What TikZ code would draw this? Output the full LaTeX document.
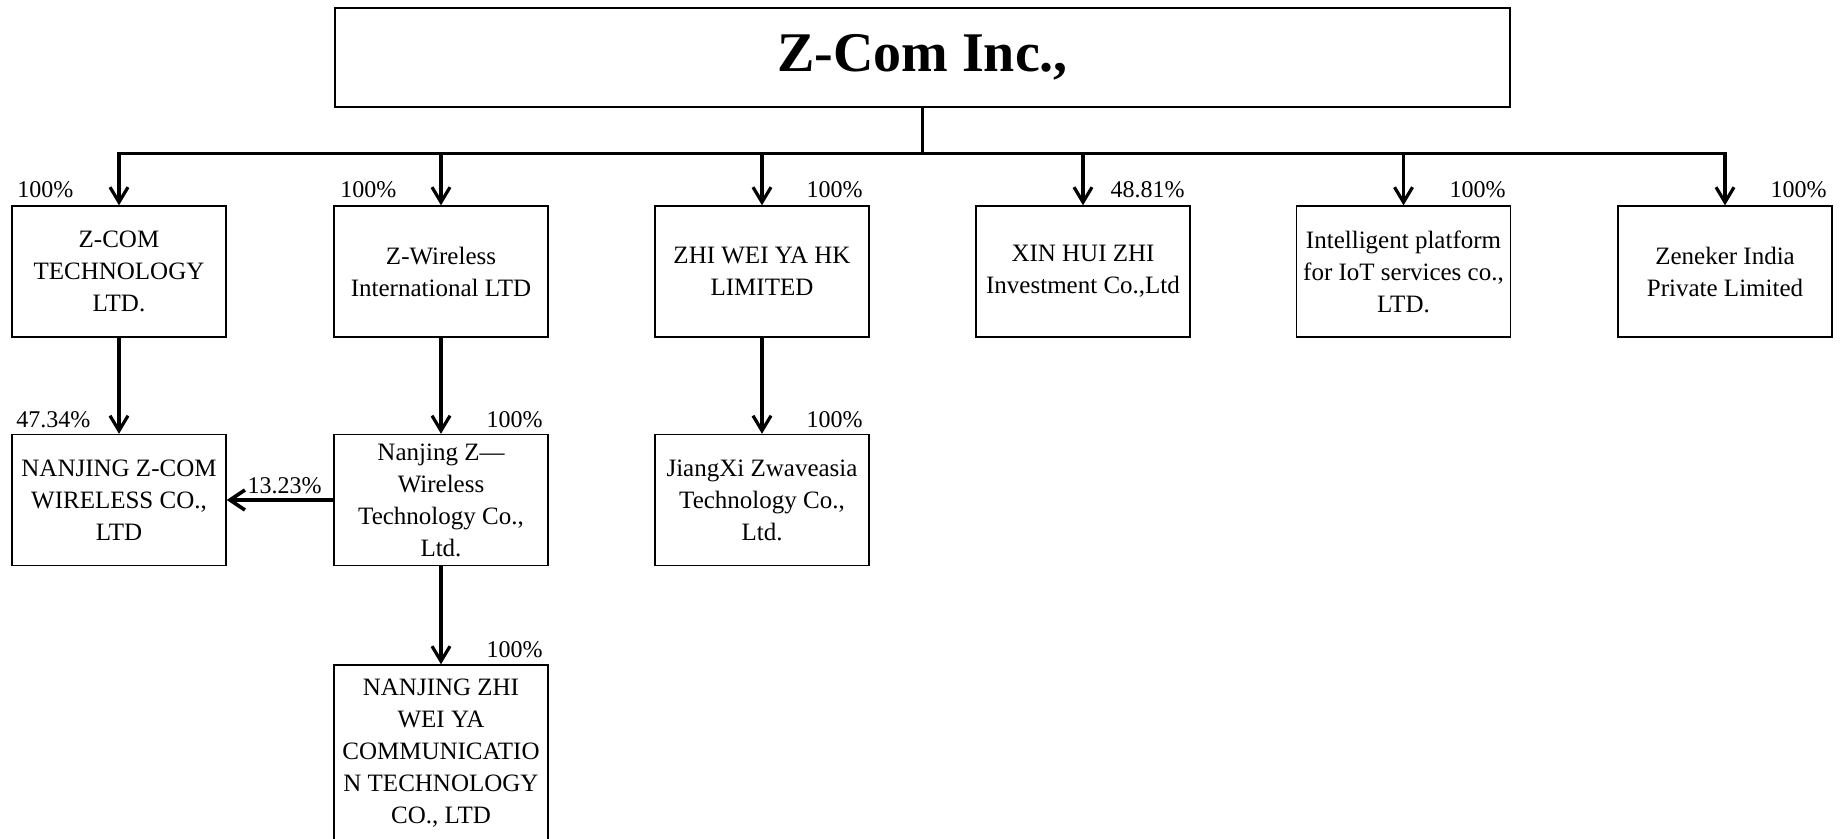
\documentclass[tikz,border=0pt]{standalone}
\usepackage{fontspec}
\setmainfont{Liberation Serif}
\usetikzlibrary{arrows.meta}
\tikzset{
  company/.style={draw, line width=0.7pt, minimum width=107pt, minimum height=65.5pt,
    align=center, inner sep=0pt, font=\fontsize{12.5}{16}\selectfont},
  titlebox/.style={draw, line width=0.7pt, minimum width=587.5pt, minimum height=49.5pt,
    inner sep=0pt, font=\fontsize{28}{30}\selectfont\bfseries},
  own/.style={line width=1.6pt, -{Straight Barb[length=7.5pt,width=9pt,line width=1.6pt]}},
  ownh/.style={line width=2.2pt, -{Straight Barb[length=7.5pt,width=10pt,line width=1.8pt]}},
  pct/.style={inner sep=0pt, font=\fontsize{12}{14}\selectfont}
}
\begin{document}
\begin{tikzpicture}[x=0.5pt,y=-0.5pt]
\clip (0,0) rectangle (1840,839);
\fill[white] (0,0) rectangle (1840,839);

\node[titlebox] (top) at (922.5,57.5) {Z-Com Inc.,};

% row 1
\node[company] (c1) at (119,271.5) {Z-COM\\TECHNOLOGY\\LTD.};
\node[company] (c2) at (441,271.5) {Z-Wireless\\International LTD};
\node[company] (c3) at (762,271.5) {ZHI WEI YA HK\\LIMITED};
\node[company] (c4) at (1083,271.5) {XIN HUI ZHI\\Investment Co.,Ltd};
\node[company] (c5) at (1403.5,271.5) {Intelligent platform\\for IoT services co.,\\LTD.};
\node[company] (c6) at (1725,271.5) {Zeneker India\\Private Limited};

% row 2
\node[company] (d1) at (119,500) {NANJING Z-COM\\WIRELESS CO.,\\LTD};
\node[company] (d2) at (441,500) {Nanjing Z---\\Wireless\\Technology Co.,\\Ltd.};
\node[company] (d3) at (762,500) {JiangXi Zwaveasia\\Technology Co.,\\Ltd.};

% row 3
\node[company, minimum height=88pt] (e2) at (441,753)
  {NANJING ZHI\\WEI YA\\COMMUNICATIO\\N TECHNOLOGY\\CO., LTD};

% connectors from top
\coordinate (bus) at ([yshift=-23pt]top.south);
\draw[line width=1.8pt] (top.south) -- (bus);
\foreach \c in {c1,c2,c3,c4,c5,c6}
  \draw[own] (bus) -| (\c.north);

\draw[own] (c1.south) -- (d1.north);
\draw[own] (c2.south) -- (d2.north);
\draw[own] (c3.south) -- (d3.north);
\draw[own] (d2.south) -- (e2.north);
\draw[ownh] (d2.west) -- (d1.east);

% percentages
\node[pct, anchor=base west] (p1) at (17,198) {100\%};
\node[pct, anchor=base west] (p2) at (340,198) {100\%};
\node[pct, anchor=base east] (p3) at (863,198) {100\%};
\node[pct, anchor=base east] (p4) at (1185,198) {48.81\%};
\node[pct, anchor=base east] (p5) at (1506,198) {100\%};
\node[pct, anchor=base east] (p6) at (1827,198) {100\%};
\node[pct, anchor=base west] (q1) at (16,427) {47.34\%};
\node[pct, anchor=base east] (q2) at (543,427) {100\%};
\node[pct, anchor=base east] (q3) at (863,427) {100\%};
\node[pct, anchor=base east] (qh) at (322,493) {13.23\%};
\node[pct, anchor=base east] (r2) at (543,657) {100\%};
\end{tikzpicture}
\end{document}
